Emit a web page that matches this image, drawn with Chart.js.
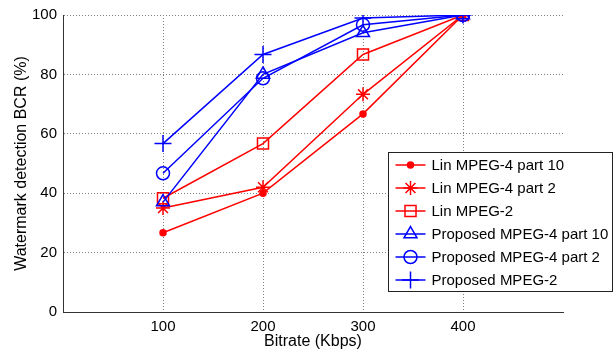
<!DOCTYPE html>
<html><head><meta charset="utf-8">
<script src="https://cdn.jsdelivr.net/npm/chart.js@4"></script>
<style>html,body{margin:0;padding:0;background:#fff}canvas{display:block}</style>
</head><body>
<canvas id="c" width="616" height="352"></canvas>
<script>
// ---- data ----
const bitrates = [100, 200, 300, 400];
const seriesNames = [
  'Lin MPEG-4 part 10',
  'Lin MPEG-4 part 2',
  'Lin MPEG-2',
  'Proposed MPEG-4 part 10',
  'Proposed MPEG-4 part 2',
  'Proposed MPEG-2'
];
const linMpeg4Part10 = [26.7, 40, 66.7, 100];
const linMpeg4Part2 = [35, 42, 73.3, 100];
const linMpeg2 = [38.3, 56.7, 86.7, 100];
const propMpeg4Part10 = [37, 80, 94, 100];
const propMpeg4Part2 = [46.7, 78.7, 96.7, 100];
const propMpeg2 = [56.7, 86.7, 99, 100];
const xTicks = [100, 200, 300, 400];
const yTicks = [0, 20, 40, 60, 80, 100];

// ---- styles ----
const RED = '#ff0000', BLUE = '#0000ff', NONE = 'rgba(0,0,0,0)';
const FONT = "'Liberation Sans', Arial, sans-serif";
const seriesValues = [linMpeg4Part10, linMpeg4Part2, linMpeg2, propMpeg4Part10, propMpeg4Part2, propMpeg2];
const seriesStyle = [
  {color: RED, pointStyle: 'circle', radius: 3, fill: RED},
  {color: RED, pointStyle: 'star', radius: 7, fill: NONE},
  {color: RED, pointStyle: 'rect', radius: 7.8, fill: NONE},
  {color: BLUE, pointStyle: 'triangle', radius: 7.5, fill: NONE},
  {color: BLUE, pointStyle: 'circle', radius: 6.5, fill: NONE},
  {color: BLUE, pointStyle: 'cross', radius: 8.5, fill: NONE}
];

const datasets = seriesValues.map((vals, i) => ({
  label: seriesNames[i],
  data: bitrates.map((b, j) => ({x: b, y: vals[j]})),
  borderColor: seriesStyle[i].color,
  backgroundColor: seriesStyle[i].fill,
  borderWidth: 1.5,
  pointStyle: seriesStyle[i].pointStyle,
  pointRadius: seriesStyle[i].radius,
  pointBorderWidth: 1.5,
  pointBorderColor: seriesStyle[i].color,
  pointBackgroundColor: seriesStyle[i].fill,
  fill: false,
  tension: 0,
  order: seriesValues.length - i
}));

const legendBox = {
  id: 'legendBox',
  afterDraw(chart) {
    const ctx = chart.ctx;
    const x0 = 388.5, y0 = 152.5, w = 224, h = 139;
    ctx.save();
    ctx.fillStyle = '#fff';
    ctx.fillRect(x0, y0, w, h);
    ctx.strokeStyle = '#222';
    ctx.lineWidth = 1;
    ctx.strokeRect(x0, y0, w, h);
    ctx.font = '15px ' + FONT;
    ctx.textBaseline = 'middle';
    ctx.textAlign = 'left';
    chart.data.datasets.forEach((ds, i) => {
      const cy = y0 + 12.5 + i * 23;
      ctx.strokeStyle = ds.borderColor;
      ctx.lineWidth = 1.5;
      ctx.beginPath();
      ctx.moveTo(x0 + 7, cy);
      ctx.lineTo(x0 + 37, cy);
      ctx.stroke();
      ctx.fillStyle = ds.pointBackgroundColor;
      ctx.strokeStyle = ds.pointBorderColor;
      ctx.lineWidth = 1.5;
      Chart.helpers.drawPoint(ctx, {pointStyle: ds.pointStyle, radius: ds.pointRadius, borderWidth: 1.5, rotation: 0}, x0 + 22, cy);
      ctx.fillStyle = '#000';
      ctx.fillText(ds.label, x0 + 43, cy + 1);
    });
    ctx.restore();
  }
};

const gridColor = '#808080';
new Chart(document.getElementById('c'), {
  type: 'line',
  data: {datasets},
  options: {
    responsive: false,
    animation: false,
    layout: {padding: {top: 13, right: 53, left: 0, bottom: 0}},
    plugins: {legend: {display: false}, tooltip: {enabled: false}},
    scales: {
      x: {
        type: 'linear', min: 0, max: 500,
        afterFit: s => { s.height = 40; },
        ticks: {stepSize: 100, color: '#000', font: {family: FONT, size: 15}, padding: 6,
          callback: v => xTicks.includes(v) ? String(v) : '', maxRotation: 0, autoSkip: false},
        grid: {drawTicks: false, lineWidth: 1,
          color: c => (c.tick && xTicks.includes(c.tick.value)) ? gridColor : NONE},
        border: {display: true, color: '#333', width: 1, dash: [1, 2]},
        title: {display: true, text: 'Bitrate (Kbps)', color: '#000', font: {family: FONT, size: 16}, padding: {top: 0, bottom: 1}}
      },
      y: {
        min: 0, max: 100,
        afterFit: s => { s.width = 63; },
        afterBuildTicks: s => { s.ticks = yTicks.map(v => ({value: v})); },
        ticks: {color: '#000', font: {family: FONT, size: 15}, padding: 6},
        grid: {drawTicks: false, lineWidth: 1,
          color: c => (c.tick && c.tick.value > 0) ? gridColor : NONE},
        border: {display: true, color: '#333', width: 1, dash: [1, 2]},
        title: {display: true, text: 'Watermark detection BCR (%)', color: '#000', font: {family: FONT, size: 16}, padding: {top: 12, bottom: 0}}
      }
    }
  },
  plugins: [legendBox]
});
</script>
</body></html>
